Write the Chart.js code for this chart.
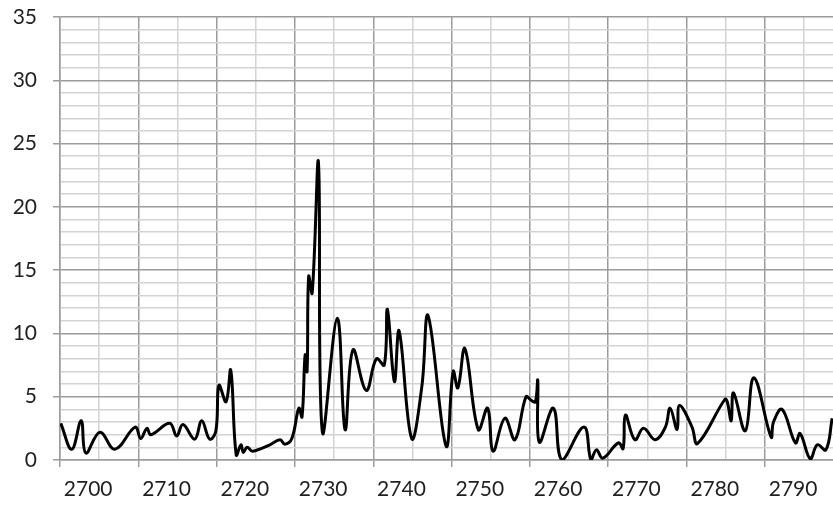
<!DOCTYPE html>
<html>
<head>
<meta charset="utf-8">
<script src="https://cdn.jsdelivr.net/npm/chart.js@4.4.1/dist/chart.umd.min.js"></script>
<style>
  html, body { margin: 0; padding: 0; background: #ffffff; }
  #wrap { width: 833px; height: 506px; }
</style>
</head>
<body>
<div id="wrap"><canvas id="spectrum" width="833" height="506"></canvas></div>
<script>
// Spectrum readings (x = wavenumber, y = intensity)
const wavenumbers = [
  2696.5, 2697.9, 2699.1, 2699.7, 2701.5, 2703.4, 2706.0, 2706.7, 2707.5, 2708.0,
  2710.4, 2711.3, 2712.1, 2713.6, 2714.5, 2715.5, 2716.3, 2716.7, 2717.6, 2718.2,
  2718.9, 2719.5, 2719.8, 2720.3, 2721.0, 2723.2, 2724.5, 2725.1, 2726.0, 2726.9,
  2727.3, 2727.7, 2727.95, 2728.15, 2728.6, 2729.4, 2729.9, 2731.8, 2732.8, 2733.8,
  2735.5, 2736.8, 2737.8, 2738.2, 2739.1, 2739.7, 2741.3, 2742.6, 2743.4, 2745.7,
  2746.6, 2747.2, 2748.1, 2749.8, 2751.0, 2751.7, 2753.2, 2754.5, 2755.9, 2756.6,
  2757.1, 2757.4, 2757.6, 2759.4, 2760.5, 2763.3, 2764.2, 2764.9, 2765.7, 2767.7,
  2768.3, 2768.6, 2769.8, 2770.9, 2772.4, 2773.7, 2774.3, 2775.2, 2775.5, 2777.1,
  2777.8, 2781.3, 2781.6, 2782.1, 2782.4, 2783.9, 2785.0, 2787.2, 2787.5, 2788.6,
  2790.3, 2790.9, 2792.2, 2793.1, 2794.2, 2795.0
];
const intensities = [
  2.9, 0.85, 3.1, 0.55, 2.2, 0.85, 2.6, 1.7, 2.5, 2.0,
  2.9, 1.9, 2.8, 1.65, 3.1, 1.65, 2.3, 5.9, 4.6, 7.1,
  0.4, 1.2, 0.6, 1.0, 0.7, 1.2, 1.6, 1.25, 1.7, 4.1,
  3.4, 8.3, 7.0, 14.5, 13.2, 23.5, 2.2, 11.2, 2.4, 8.7,
  5.5, 8.0, 7.5, 11.9, 6.2, 10.2, 1.7, 5.8, 11.4, 1.1,
  7.0, 5.7, 8.8, 2.4, 4.1, 0.7, 3.3, 1.6, 5.0, 4.7,
  4.6, 6.3, 1.4, 4.1, 0.0, 2.6, 0.0, 0.8, 0.15, 1.35,
  0.9, 3.55, 1.6, 2.5, 1.6, 2.6, 4.1, 2.4, 4.3, 2.6,
  1.3, 4.8, 4.6, 3.1, 5.3, 2.3, 6.5, 1.8, 3.0, 4.0,
  1.35, 2.1, 0.1, 1.2, 0.8, 3.3
];
const xTickLabels = [2700, 2710, 2720, 2730, 2740, 2750, 2760, 2770, 2780, 2790];
const yTickLabels = [0, 5, 10, 15, 20, 25, 30, 35];

const X_MIN = 2696.4;
const X_MAX = 2795.1;
const GRID_DARK = "#9c9c9c";
const GRID_LIGHT = "#d3d3d3";
const TEXT = "#1f1f1f";
const labelFont = { family: "Lato", size: 21 };

// vertical grid every 5 units starting at the left edge of the plot
const xGridSteps = [];
for (let v = X_MIN; v <= X_MAX + 0.001; v += 5) xGridSteps.push(v);

const ctx = document.getElementById("spectrum").getContext("2d");
new Chart(ctx, {
  type: "line",
  data: {
    datasets: [{
      data: wavenumbers.map((x, i) => ({ x: x, y: intensities[i] })),
      borderColor: "#000000",
      borderWidth: 3,
      pointRadius: 0,
      tension: 0.4,
      fill: false,
      xAxisID: "x",
      yAxisID: "y"
    }]
  },
  options: {
    responsive: false,
    animation: false,
    layout: { padding: { top: 17, left: 0, right: 0, bottom: 0 } },
    plugins: {
      legend: { display: false },
      tooltip: { enabled: false }
    },
    scales: {
      x: {
        type: "linear",
        position: "bottom",
        weight: 0,
        min: X_MIN,
        max: X_MAX,
        afterBuildTicks: s => { s.ticks = xGridSteps.map(v => ({ value: v })); },
        grid: {
          color: c => (c.index % 2 === 0 ? GRID_DARK : GRID_LIGHT),
          tickColor: c => (c.index % 2 === 0 ? GRID_DARK : "rgba(0,0,0,0)"),
          lineWidth: 1.5,
          drawTicks: true,
          tickLength: 7
        },
        border: { color: GRID_DARK, width: 1.5 },
        ticks: { display: false },
        afterFit: s => { s.height = 7; }
      },
      // second bottom axis only carries the round-number labels
      x2: {
        type: "linear",
        position: "bottom",
        weight: 1,
        min: X_MIN,
        max: X_MAX,
        afterBuildTicks: s => { s.ticks = xTickLabels.map(v => ({ value: v })); },
        grid: { display: false, drawTicks: false, tickLength: 0 },
        border: { display: false },
        ticks: {
          autoSkip: false,
          maxRotation: 0,
          padding: 10,
          color: TEXT,
          font: labelFont,
          callback: v => String(v)
        },
        afterFit: s => { s.height = 39; }
      },
      y: {
        min: 0,
        max: 35,
        afterBuildTicks: s => {
          const t = [];
          for (let v = 0; v <= 35; v++) t.push({ value: v });
          s.ticks = t;
        },
        grid: {
          color: c => (c.tick.value % 5 === 0 ? GRID_DARK : GRID_LIGHT),
          tickColor: c => (c.tick.value % 5 === 0 ? GRID_DARK : "rgba(0,0,0,0)"),
          lineWidth: 1.5,
          tickLength: 7
        },
        border: { color: GRID_DARK, width: 1.5 },
        ticks: {
          autoSkip: false,
          padding: 16,
          color: TEXT,
          font: labelFont,
          callback: v => (yTickLabels.includes(v) ? String(v) : "")
        },
        afterFit: s => {
          s.width = 60;
          // the tick padding would otherwise push the plot top down
          s.paddingTop = 0;
          s.paddingBottom = 0;
        }
      }
    }
  }
});
</script>
</body>
</html>
